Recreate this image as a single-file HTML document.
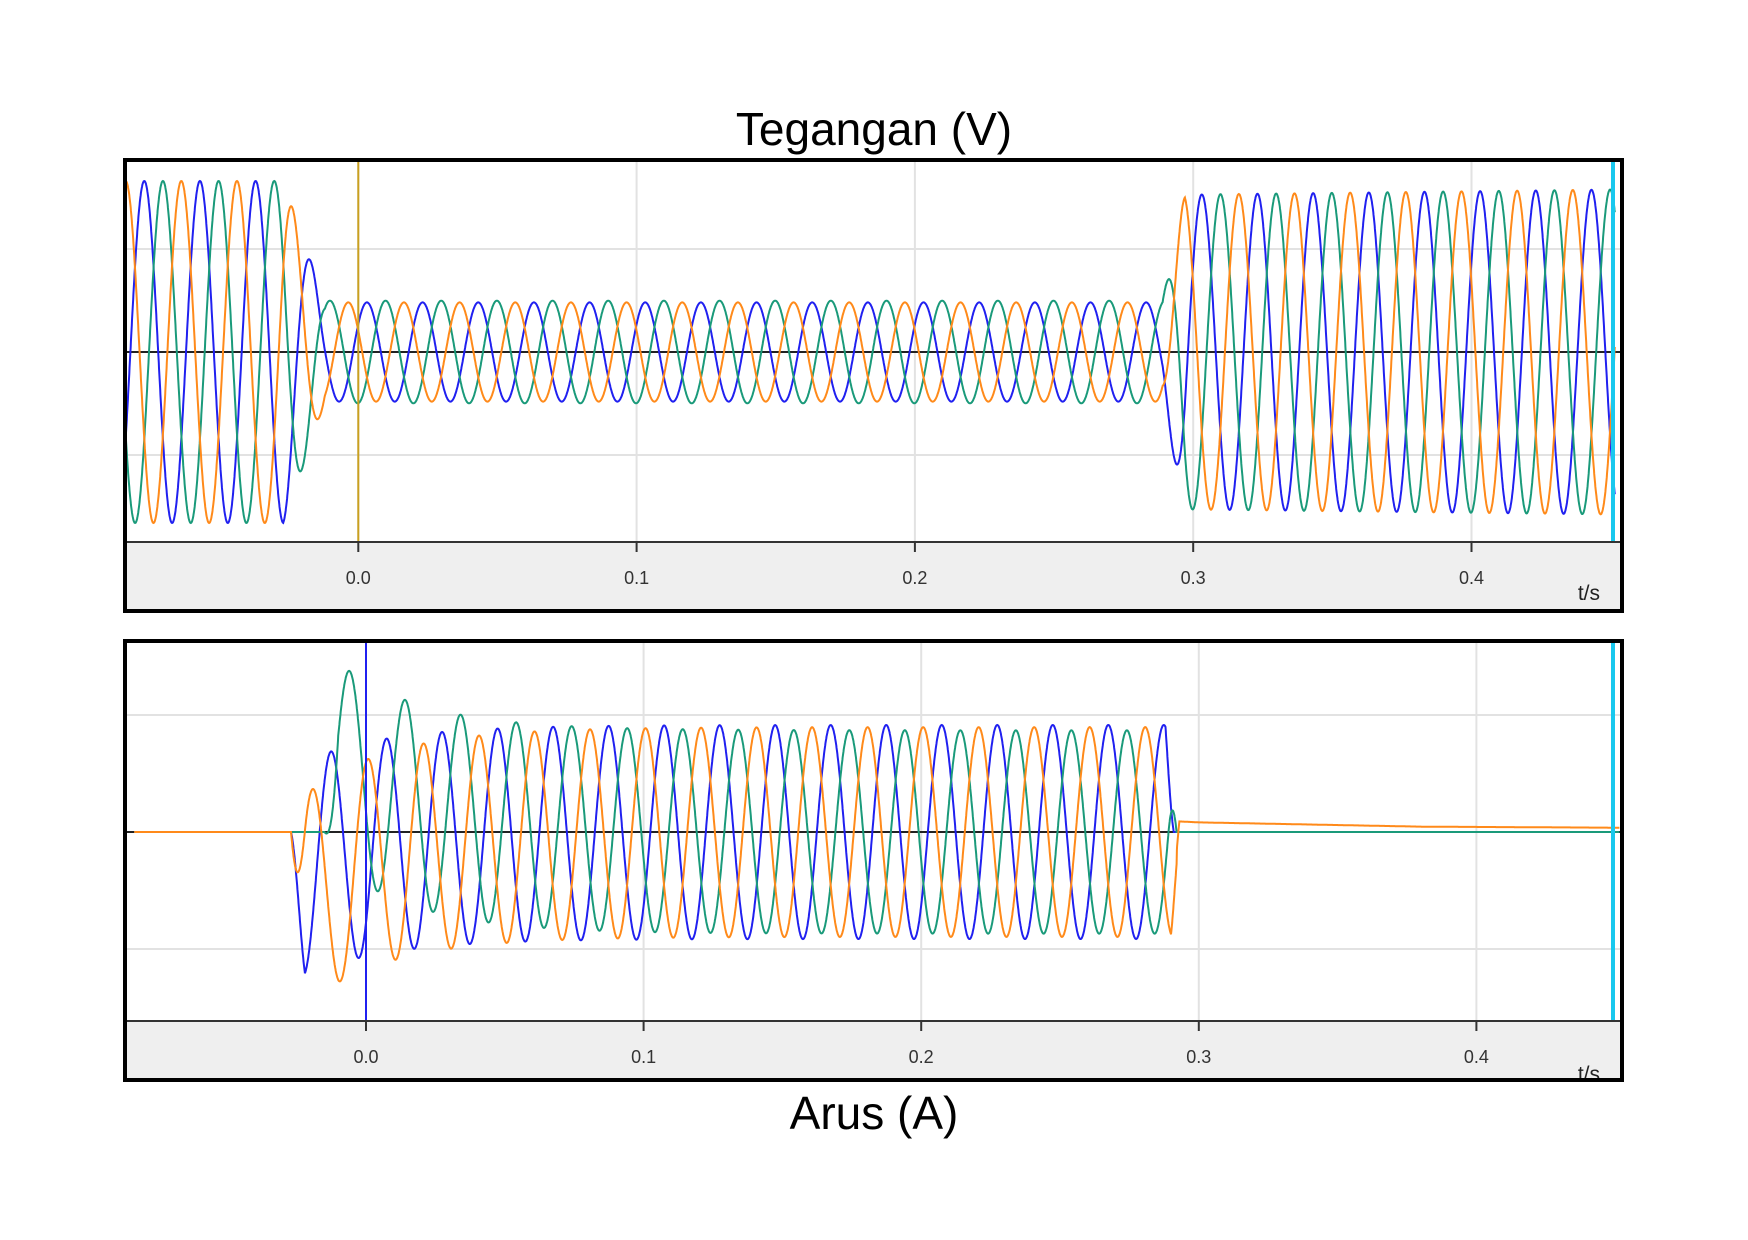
<!DOCTYPE html>
<html><head><meta charset="utf-8"><style>
html,body{margin:0;padding:0;background:#fff;width:1748px;height:1240px;overflow:hidden}
svg{display:block}
</style></head><body>
<svg id="fig" width="1748" height="1240" viewBox="0 0 1748 1240" xmlns="http://www.w3.org/2000/svg">
<text x="874" y="145" text-anchor="middle" font-family="'Liberation Sans',sans-serif" font-size="46" fill="#000">Tegangan (V)</text>
<text x="874" y="1129" text-anchor="middle" font-family="'Liberation Sans',sans-serif" font-size="46" fill="#000">Arus (A)</text>
<g id="top"></g>
<g id="bot"></g>
</svg>
<script>
// ---- data ----
const xTicks = [0.0, 0.1, 0.2, 0.3, 0.4];
const xTickLabels = ["0.0", "0.1", "0.2", "0.3", "0.4"];
const phaseNames = ["blue", "green", "orange"];
const phaseColors = ["#2020f0", "#1a9a7a", "#ff8a1a"];
// voltage amplitude envelope (per-unit, 1.0 = 171px)
const voltTimes = [-0.084, -0.027, -0.012, 0.289, 0.297, 0.452];
const voltAmpBlue   = [1.0, 1.0, 0.29, 0.29, 0.92, 0.95];
const voltAmpGreen  = [1.0, 1.0, 0.30, 0.30, 0.92, 0.95];
const voltAmpOrange = [1.0, 1.0, 0.29, 0.29, 0.92, 0.95];
const voltPeakTime = [0.0031, 0.0098, 0.0164]; // blue, green, orange peak times
// current (per-unit, 1.0 = 107px)
const currStart = [-0.027, -0.015, -0.027];
const currEnd = [0.291, 0.292, 0.293];
const currAmp = [1.0, 0.95, 0.98];
const currPeakTime = [-0.0126, -0.0059, 0.0007];
const currDC0 = [-0.40, 0.75, -0.75];
const currDCTau = 0.03;
const currTailTimes = [0.292, 0.300, 0.380, 0.452];
const currTailOrange = [0.10, 0.09, 0.05, 0.04];
const freq = 50;

const NS = "http://www.w3.org/2000/svg";
function mk(tag, attrs, parent){const e=document.createElementNS(NS,tag);for(const k in attrs)e.setAttribute(k,attrs[k]);parent.appendChild(e);return e;}
function interp(ts, vs, t){ if(t<=ts[0])return vs[0]; for(let i=1;i<ts.length;i++){ if(t<=ts[i]){const f=(t-ts[i-1])/(ts[i]-ts[i-1]);return vs[i-1]+f*(vs[i]-vs[i-1]);}} return vs[vs.length-1]; }

function panel(g, cfg){
  const xs = t => cfg.x0 + t*cfg.pxPerSec;
  const ys = v => cfg.yZero - v*cfg.pxPerUnit;
  mk('rect',{x:cfg.left,y:cfg.top,width:cfg.right-cfg.left,height:cfg.bottom-cfg.top,fill:'#fff'},g);
  const foot = mk('rect',{x:cfg.left,y:cfg.axisY,width:cfg.right-cfg.left,height:cfg.bottom-cfg.axisY,fill:'#efefef'},g);
  
  
  cfg.hGrid.forEach(y=>{ const l=mk('line',{x1:cfg.left,x2:cfg.right,y1:y,y2:y,stroke:'#e2e2e2','stroke-width':2},g);
      });
  xTicks.forEach((t,i)=>{
    const x=xs(t);
    const l=mk('line',{x1:x,x2:x,y1:cfg.top,y2:cfg.axisY,stroke:'#e2e2e2','stroke-width':2},g);
     
    const tk=mk('line',{x1:x,x2:x,y1:cfg.axisY,y2:cfg.axisY+10,stroke:'#333','stroke-width':2},g);
     
    const tx=mk('text',{x:x,y:cfg.axisY+42,'text-anchor':'middle','font-family':"'Liberation Sans',sans-serif",'font-size':18,fill:'#333'},g);
    tx.textContent=xTickLabels[i];
     
  });
  const zl=mk('line',{x1:cfg.left,x2:cfg.right,y1:cfg.yZero,y2:cfg.yZero,stroke:'#222','stroke-width':2},g);
   
  cfg.series.forEach((s,pi)=>{
    let d='';
    for(let t=cfg.tMin;t<=cfg.tMax;t+=0.0001){
      const v=s.fn(t);
      d+=(d?'L':'M')+xs(t).toFixed(1)+' '+ys(v).toFixed(1);
    }
    const p=mk('path',{d:d,fill:'none',stroke:phaseColors[pi],'stroke-width':2},g);
    
    
  });
  const cur=mk('line',{x1:xs(0),x2:xs(0),y1:cfg.top,y2:cfg.axisY,stroke:cfg.cursorColor,'stroke-width':2},g);
   
  const cy=mk('line',{x1:1613,x2:1613,y1:cfg.top,y2:cfg.axisY,stroke:'#19c8ee','stroke-width':4},g);
   
  const ax=mk('line',{x1:cfg.left,x2:cfg.right,y1:cfg.axisY,y2:cfg.axisY,stroke:'#333','stroke-width':2},g);
   
  const ts=mk('text',{x:1600,y:cfg.unitY,'text-anchor':'end','font-family':"'Liberation Sans',sans-serif",'font-size':21,fill:'#222'},g);
  ts.textContent='t/s';
   
  const b=mk('rect',{x:cfg.left,y:cfg.top,width:cfg.right-cfg.left,height:cfg.bottom-cfg.top,fill:'none',stroke:'#000','stroke-width':4},g);
   
}

const w = 2*Math.PI*freq;
const vAmps=[voltAmpBlue,voltAmpGreen,voltAmpOrange];

panel(document.getElementById('top'),{
  name:'voltage', left:125, right:1622, top:160, bottom:611, axisY:542, x0:358.3, pxPerSec:2783,
  yZero:352, pxPerUnit:171, hGrid:[249,455], tMin:-0.0835, tMax:0.4515, unitY:600, cursorColor:'#c9a020',
  series:[0,1,2].map(i=>({fn:t=>interp(voltTimes,vAmps[i],t)*Math.cos(w*(t-voltPeakTime[i]))}))
});
panel(document.getElementById('bot'),{
  name:'current', left:125, right:1622, top:641, bottom:1080, axisY:1021, x0:366, pxPerSec:2776,
  yZero:832, pxPerUnit:107, hGrid:[715,949], tMin:-0.0835, tMax:0.4515, unitY:1081, cursorColor:'#2020f0',
  series:[0,1,2].map(i=>({fn:t=>{
    const s=currStart[i], e=currEnd[i];
    let v=0;
    if(t>s && t<e){
      const ramp=Math.min(1,(t-s)/0.005);
      const a=currAmp[i]*ramp*Math.min(1,(e-t)/0.003);
      const dc=currDC0[i]*Math.exp(-(t-s)/currDCTau)*ramp;
      v=a*Math.cos(w*(t-currPeakTime[i]))+dc;
    }
    if(i===2 && t>=0.292) v+=interp(currTailTimes,currTailOrange,t);
    return v;
  }}))
});
</script>
</body></html>
